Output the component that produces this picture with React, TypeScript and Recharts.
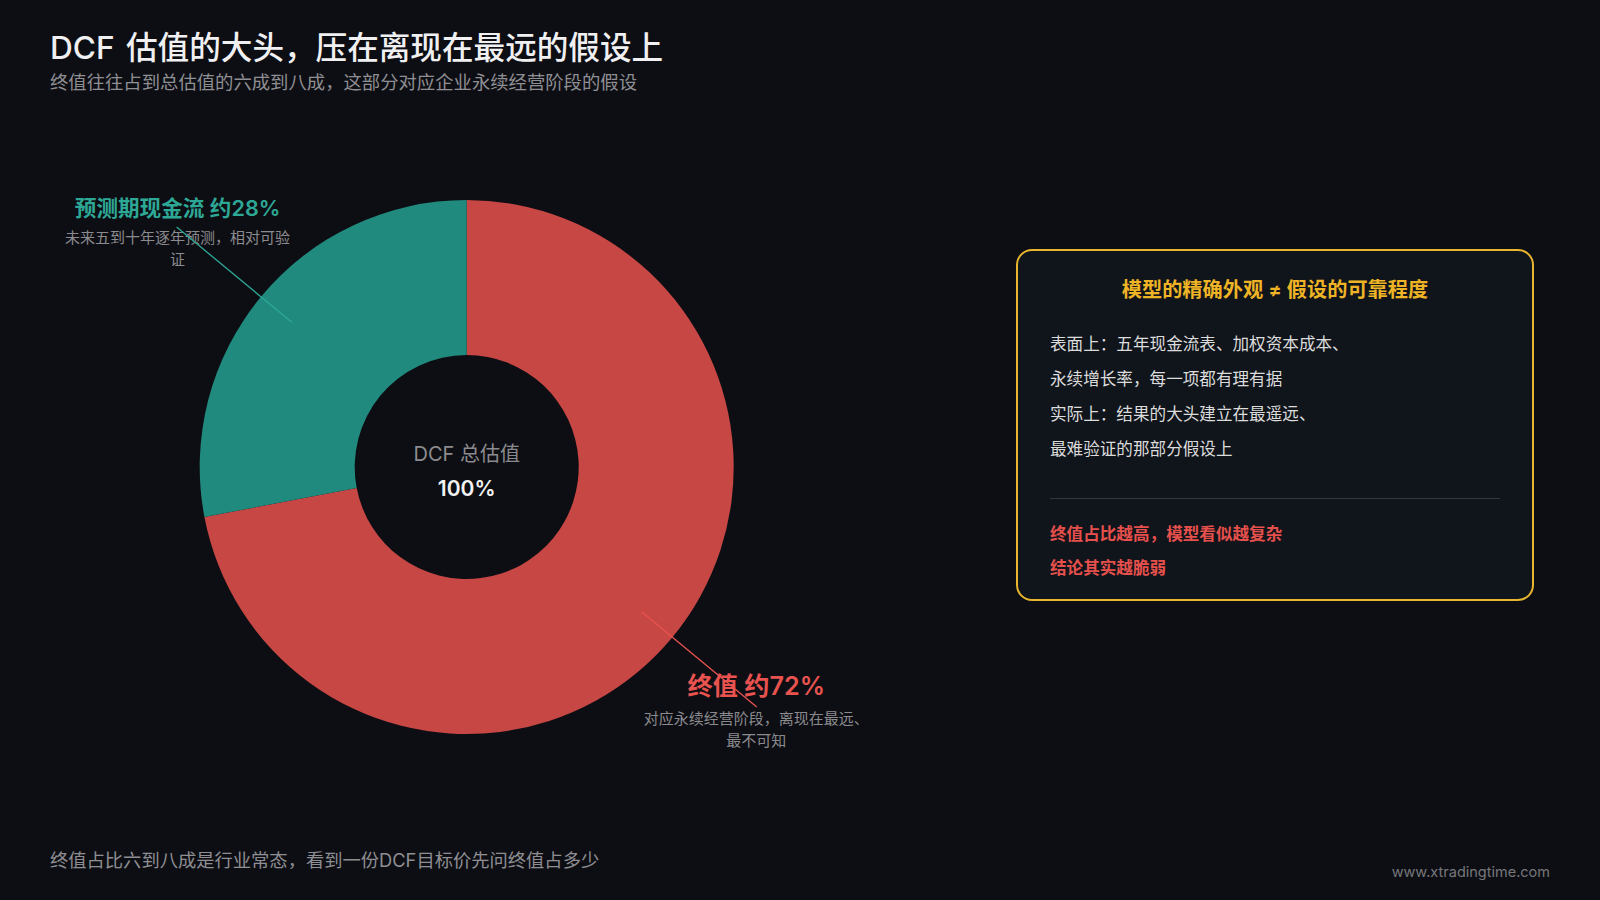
import { PieChart, Pie, Cell, Label } from "recharts"

const sliceNames = ["终值", "预测期现金流"]
const sliceValues = [72, 28]
const sliceHeads = ["终值 约72%", "预测期现金流 约28%"]
const sliceNotes = [
  ["对应永续经营阶段，离现在最远、", "最不可知"],
  ["未来五到十年逐年预测，相对可验", "证"],
]
const bodyLines = [
  "表面上：五年现金流表、加权资本成本、",
  "永续增长率，每一项都有理有据",
  "实际上：结果的大头建立在最遥远、",
  "最难验证的那部分假设上",
]
const warnLines = ["终值占比越高，模型看似越复杂", "结论其实越脆弱"]

const FONT = 'Inter, "Noto Sans CJK SC", sans-serif'
const BG = "#0d0e13"
const SLICE_COLOURS = ["#c74745", "#218a7e"]
const TEXT_COLOURS = ["#e8534f", "#2ea896"]
const HEAD_SIZES = [25.2, 21.6]
const CX = 466.7
const CY = 467

const RAD = Math.PI / 180

// ring text and leader drawn together so the leader ends up above the text, like the original
function sliceLabel(props: any) {
  const { cx, cy, midAngle, outerRadius, index } = props
  const cos = Math.cos(midAngle * RAD)
  const sin = Math.sin(midAngle * RAD)
  const x0 = cx + outerRadius * 0.85 * cos
  const y0 = cy - outerRadius * 0.85 * sin
  const x1 = cx + outerRadius * 1.41 * cos
  const y1 = cy - outerRadius * 1.41 * sin
  const tx = index === 0 ? x1 - 0.5 : x1 + 1
  const head = index === 0 ? -21 : -19
  const first = index === 0 ? 12 : 10.5
  return (
    <g key={index} style={{ fontFamily: FONT }}>
      <text x={tx} y={y1 + head} textAnchor="middle" dominantBaseline="central"
        fontSize={HEAD_SIZES[index]} fontWeight={600} fill={TEXT_COLOURS[index]}>
        {sliceHeads[index]}
      </text>
      {sliceNotes[index].map((t, i) => (
        <text key={i} x={tx} y={y1 + first + i * 22} textAnchor="middle" dominantBaseline="central"
          fontSize={15} fill="#8b8b8f">
          {t}
        </text>
      ))}
      <line x1={x0} y1={y0} x2={x1} y2={y1} stroke={TEXT_COLOURS[index]} strokeWidth={1.3} />
    </g>
  )
}

function centreLabel() {
  return (
    <g style={{ fontFamily: FONT }}>
      <text x={CX} y={CY - 13} textAnchor="middle" dominantBaseline="central" fontSize={20} fill="#8b8b8f">
        DCF 总估值
      </text>
      <text x={CX} y={CY + 21} textAnchor="middle" dominantBaseline="central" fontSize={21} fontWeight={600} fill="#f2f2f2">
        100%
      </text>
    </g>
  )
}

export default function App() {
  const data = sliceNames.map((name, i) => ({ name, value: sliceValues[i] }))
  const line = (top: number, size: number, colour: string, weight: number, left: number): React.CSSProperties => ({
    position: "absolute", left, top, fontSize: size, color: colour, fontWeight: weight,
    lineHeight: "24px", whiteSpace: "nowrap",
  })
  return (
    <div style={{ position: "absolute", left: 0, top: 0, width: 1600, height: 900, background: BG, fontFamily: FONT, overflow: "hidden" }}>
      <div style={{ ...line(36, 31.6, "#f0f0f2", 500, 50), wordSpacing: 3 }}>DCF 估值的大头，压在离现在最远的假设上</div>
      <div style={line(70, 18.35, "#8f8f93", 400, 50)}>终值往往占到总估值的六成到八成，这部分对应企业永续经营阶段的假设</div>

      <div style={{ position: "absolute", left: 0, top: 0 }}>
        <PieChart width={1000} height={900} margin={{ top: 0, right: 0, bottom: 0, left: 0 }}>
          <Pie data={data} dataKey="value" nameKey="name" cx={CX} cy={CY} innerRadius={112} outerRadius={267}
            startAngle={90} endAngle={-270} stroke="none" isAnimationActive={false}
            label={sliceLabel} labelLine={false}>
            {data.map((_, i) => <Cell key={i} fill={SLICE_COLOURS[i]} />)}
            <Label position="center" content={centreLabel} />
          </Pie>
        </PieChart>
      </div>

      <div style={{
        position: "absolute", left: 1016, top: 249, width: 518, height: 352, boxSizing: "border-box",
        border: "2px solid #e8b52f", borderRadius: 16, background: "#10141b",
      }} />
      <div style={{ ...line(278, 20.2, "#eeb425", 600, 1016), width: 518, textAlign: "center" }}>模型的精确外观 ≠ 假设的可靠程度</div>
      {bodyLines.map((t, i) => (
        <div key={i} style={line(332 + i * 35, 16.6, "#dcdcdc", 400, 1050)}>{t}</div>
      ))}
      <div style={{ position: "absolute", left: 1050, top: 498, width: 450, height: 1, background: "#34373c" }} />
      {warnLines.map((t, i) => (
        <div key={i} style={line(522 + i * 33.5, 16.6, "#e5504c", 600, 1050)}>{t}</div>
      ))}

      <div style={line(848, 18.3, "#8f8f93", 400, 50)}>终值占比六到八成是行业常态，看到一份DCF目标价先问终值占多少</div>
      <div style={{ ...line(860, 14.5, "#77777b", 400, 1250), width: 300, textAlign: "right" }}>www.xtradingtime.com</div>
    </div>
  )
}
